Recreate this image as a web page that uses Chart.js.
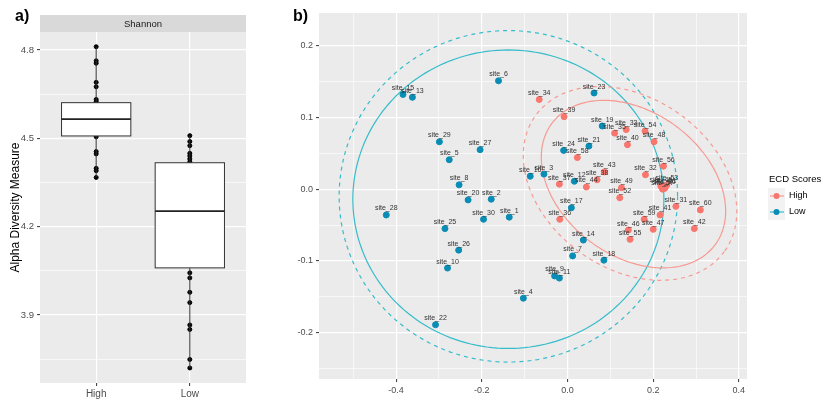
<!DOCTYPE html>
<html>
<head>
<meta charset="utf-8">
<script src="https://cdn.jsdelivr.net/npm/chart.js@4.4.0/dist/chart.umd.min.js"></script>
<style>
body { margin: 0; background: #fff; width: 825px; height: 401px; position: relative; overflow: hidden; font-family: "Liberation Sans", Arial, sans-serif; }
#boxWrap { position: absolute; left: 0; top: 0; width: 285px; height: 401px; }
#pcoaWrap { position: absolute; left: 285px; top: 0; width: 540px; height: 401px; }
.tag { position: absolute; font-weight: bold; font-size: 16px; color: #000; line-height: 1; }
</style>
</head>
<body>
<div id="boxWrap"><canvas id="boxChart" width="285" height="401"></canvas></div>
<div id="pcoaWrap"><canvas id="pcoaChart" width="540" height="401"></canvas></div>
<div class="tag" style="left:15px; top:8px;">a)</div>
<div class="tag" style="left:293px; top:8px;">b)</div>
<script>
/* ------------------------------- Data: panel a -------------------------------*/

const boxGroups = ['High', 'Low'];
const boxQ1 = [4.508, 4.060];
const boxMedian = [4.565, 4.253];
const boxQ3 = [4.621, 4.417];
const whiskerLow = [4.367, 3.720];
const whiskerHigh = [4.811, 4.509];

const highDiversity = [4.811, 4.763, 4.755, 4.690, 4.675, 4.632, 4.625, 4.505, 4.455, 4.447, 4.398, 4.390, 4.367];
const lowDiversity = [4.509, 4.489, 4.475, 4.449, 4.440, 4.430, 4.420, 4.043, 4.026, 3.977, 3.942, 3.866, 3.851, 3.749, 3.720];

const boxMajorTicks = [3.9, 4.2, 4.5, 4.8];
const boxMinorTicks = [3.75, 4.05, 4.35, 4.65];

/* ------------------------------- Data: panel b -------------------------------*/

const lowSites = ['site_1', 'site_2', 'site_3', 'site_4', 'site_5', 'site_6', 'site_7', 'site_8', 'site_9', 'site_10',
    'site_11', 'site_12', 'site_13', 'site_14', 'site_15', 'site_16', 'site_17', 'site_18', 'site_19', 'site_20',
    'site_21', 'site_22', 'site_23', 'site_24', 'site_25', 'site_26', 'site_27', 'site_28', 'site_29', 'site_30'];
const lowPC1 = [-0.136, -0.178, -0.055, -0.103, -0.276, -0.161, 0.012, -0.253, -0.030, -0.280,
    -0.019, 0.016, -0.362, 0.037, -0.384, -0.087, 0.009, 0.085, 0.081, -0.232,
    0.050, -0.308, 0.062, -0.009, -0.286, -0.254, -0.204, -0.423, -0.299, -0.196];
const lowPC2 = [-0.039, -0.014, 0.021, -0.152, 0.041, 0.151, -0.093, 0.006, -0.121, -0.110,
    -0.124, 0.011, 0.128, -0.071, 0.132, 0.018, -0.026, -0.099, 0.088, -0.015,
    0.060, -0.189, 0.134, 0.054, -0.055, -0.085, 0.055, -0.036, 0.066, -0.042];

const highSites = ['site_31', 'site_32', 'site_33', 'site_34', 'site_35', 'site_36', 'site_37', 'site_38', 'site_39', 'site_40',
    'site_41', 'site_42', 'site_43', 'site_44', 'site_45', 'site_46', 'site_47', 'site_48', 'site_49', 'site_50',
    'site_51', 'site_52', 'site_53', 'site_54', 'site_55', 'site_56', 'site_57', 'site_58', 'site_59', 'site_60'];
const highPC1 = [0.253, 0.182, 0.137, -0.066, 0.110, -0.018, -0.019, 0.069, -0.008, 0.140,
    0.216, 0.296, 0.086, 0.044, 0.218, 0.142, 0.200, 0.202, 0.126, 0.226,
    0.228, 0.122, 0.232, 0.181, 0.146, 0.224, 0.222, 0.023, 0.179, 0.310];
const highPC2 = [-0.024, 0.020, 0.083, 0.125, 0.078, -0.042, 0.007, 0.013, 0.101, 0.062,
    -0.036, -0.055, 0.024, 0.003, 0.004, -0.057, -0.056, 0.066, 0.002, 0.001,
    0.002, -0.012, 0.006, 0.081, -0.070, 0.032, 0.000, 0.044, -0.042, -0.029];

// ellipses: centre and two conjugate half-axes (data units)
const ellipseGroup = ['Low', 'Low', 'High', 'High'];
const ellipseDashed = [false, true, false, true];
const ellipseCX = [-0.138, -0.138, 0.154, 0.146];
const ellipseCY = [-0.014, -0.010, 0.007, 0.008];
const ellipseU = [[0.363, 0], [0.395, 0], [0.190, -0.085], [0.220, -0.095]];
const ellipseV = [[0, -0.208], [0, -0.231], [-0.101, -0.080], [-0.117, -0.096]];

const pcoaXMajor = [-0.4, -0.2, 0, 0.2, 0.4];
const pcoaXMinor = [-0.5, -0.3, -0.1, 0.1, 0.3];
const pcoaYMajor = [-0.2, -0.1, 0, 0.1, 0.2];
const pcoaYMinor = [-0.25, -0.15, -0.05, 0.05, 0.15];

/* ------------------------------- Styles -------------------------------*/

const FONT = '"Liberation Sans", Arial, sans-serif';
const COLORS = { High: '#F8766D', Low: '#0A8DB5' };
const LINE_COLORS = { High: '#F69A92', Low: '#35BCCB' };

/* ------------------------------- Helpers -------------------------------*/

function setTicks(majors, minors) {
    return function (scale) {
        scale.ticks = majors.concat(minors).sort((a, b) => a - b).map(v => ({ value: v }));
    };
}

function gridFor(majors) {
    return {
        color: '#FFFFFF',
        lineWidth: ctx => (ctx.tick && majors.includes(ctx.tick.value)) ? 1.2 : 0.6,
        tickColor: ctx => (ctx.tick && majors.includes(ctx.tick.value)) ? '#333333' : 'rgba(0,0,0,0)',
        tickLength: 3,
        tickWidth: 1
    };
}

const panelBg = {
    id: 'panelBg',
    beforeDraw(chart) {
        const a = chart.chartArea, c = chart.ctx;
        c.save();
        c.fillStyle = '#EBEBEB';
        c.fillRect(a.left, a.top, a.right - a.left, a.bottom - a.top);
        c.restore();
    }
};

/* ------------------------------- Panel a: box plot -------------------------------*/

const stripPlugin = {
    id: 'strip',
    afterDraw(chart) {
        const a = chart.chartArea, c = chart.ctx;
        c.save();
        c.fillStyle = '#D9D9D9';
        c.fillRect(a.left, 15, a.right - a.left, a.top - 15);
        c.fillStyle = '#1A1A1A';
        c.font = '9.5px ' + FONT;
        c.textAlign = 'center';
        c.textBaseline = 'middle';
        c.fillText('Shannon', (a.left + a.right) / 2, (15 + a.top) / 2 + 0.5);
        c.restore();
    }
};

const boxPlugin = {
    id: 'boxPlot',
    afterDatasetsDraw(chart) {
        const c = chart.ctx, xs = chart.scales.x, ys = chart.scales.y;
        c.save();
        for (let i = 0; i < boxGroups.length; i++) {
            const xc = xs.getPixelForValue(i + 1);
            const half = xs.getPixelForValue(i + 1.37) - xc;
            c.strokeStyle = '#333333';
            c.lineWidth = 1;
            c.beginPath();
            c.moveTo(xc, ys.getPixelForValue(whiskerLow[i]));
            c.lineTo(xc, ys.getPixelForValue(whiskerHigh[i]));
            c.stroke();

            const top = ys.getPixelForValue(boxQ3[i]);
            const bot = ys.getPixelForValue(boxQ1[i]);
            c.fillStyle = '#FFFFFF';
            c.fillRect(xc - half, top, half * 2, bot - top);
            c.strokeRect(xc - half, top, half * 2, bot - top);

            const med = ys.getPixelForValue(boxMedian[i]);
            c.lineWidth = 1.8;
            c.strokeStyle = '#222222';
            c.beginPath();
            c.moveTo(xc - half, med);
            c.lineTo(xc + half, med);
            c.stroke();
        }
        c.restore();
    }
};

new Chart(document.getElementById('boxChart').getContext('2d'), {
    type: 'scatter',
    data: {
        datasets: [{
            data: highDiversity.map(v => ({ x: 1, y: v })),
            backgroundColor: '#000', borderColor: '#000', pointRadius: 2
        }, {
            data: lowDiversity.map(v => ({ x: 2, y: v })),
            backgroundColor: '#000', borderColor: '#000', pointRadius: 2
        }]
    },
    options: {
        responsive: false,
        animation: false,
        devicePixelRatio: 1,
        layout: { padding: { top: 32, right: 39, bottom: 0, left: 0 } },
        plugins: { legend: { display: false }, tooltip: { enabled: false } },
        scales: {
            x: {
                type: 'linear', min: 0.4, max: 2.6,
                afterBuildTicks: setTicks([1, 2], []),
                afterFit: s => { s.height = 18; },
                ticks: { autoSkip: false, maxRotation: 0, padding: 2, color: '#4D4D4D',
                    font: { size: 10, family: FONT }, callback: v => boxGroups[v - 1] },
                grid: gridFor([1, 2]),
                border: { display: false }
            },
            y: {
                min: 3.669, max: 4.861,
                afterBuildTicks: setTicks(boxMajorTicks, boxMinorTicks),
                afterFit: s => { s.width = 40; },
                ticks: { autoSkip: false, padding: 3, color: '#4D4D4D',
                    font: { size: 9.5, family: FONT },
                    callback: v => boxMajorTicks.includes(v) ? v.toFixed(1) : '' },
                grid: gridFor(boxMajorTicks),
                border: { display: false },
                title: { display: true, text: 'Alpha Diversity Measure', color: '#000',
                    font: { size: 12, family: FONT }, padding: { top: 8, bottom: 0 } }
            }
        }
    },
    plugins: [panelBg, boxPlugin, stripPlugin]
});

/* ------------------------------- Panel b: PCoA -------------------------------*/

const ellipsePlugin = {
    id: 'ellipses',
    beforeDatasetsDraw(chart) {
        const c = chart.ctx, xs = chart.scales.x, ys = chart.scales.y, a = chart.chartArea;
        c.save();
        c.beginPath();
        c.rect(a.left, a.top, a.right - a.left, a.bottom - a.top);
        c.clip();
        for (let i = 0; i < ellipseCX.length; i++) {
            c.strokeStyle = LINE_COLORS[ellipseGroup[i]];
            c.lineWidth = 1.2;
            c.setLineDash(ellipseDashed[i] ? [4, 4] : []);
            c.beginPath();
            for (let k = 0; k <= 180; k++) {
                const t = k / 180 * Math.PI * 2;
                const x = ellipseCX[i] + ellipseU[i][0] * Math.cos(t) + ellipseV[i][0] * Math.sin(t);
                const y = ellipseCY[i] + ellipseU[i][1] * Math.cos(t) + ellipseV[i][1] * Math.sin(t);
                const px = xs.getPixelForValue(x), py = ys.getPixelForValue(y);
                if (k == 0) c.moveTo(px, py); else c.lineTo(px, py);
            }
            c.stroke();
        }
        c.restore();
    }
};

const siteLabels = {
    id: 'siteLabels',
    afterDatasetsDraw(chart) {
        const c = chart.ctx;
        c.save();
        c.font = '7px ' + FONT;
        c.fillStyle = '#333333';
        c.textAlign = 'center';
        c.textBaseline = 'alphabetic';
        chart.data.datasets.forEach((ds, di) => {
            const names = di == 0 ? highSites : lowSites;
            chart.getDatasetMeta(di).data.forEach((pt, i) => {
                c.fillText(names[i], pt.x, pt.y - 4.5);
            });
        });
        c.restore();
    }
};

const legendPlugin = {
    id: 'ecdLegend',
    afterDraw(chart) {
        const c = chart.ctx;
        const left = 484;
        c.save();
        c.fillStyle = '#000';
        c.font = '9.5px ' + FONT;
        c.textBaseline = 'middle';
        c.fillText('ECD Scores', left, 179);
        ['High', 'Low'].forEach((g, i) => {
            const yc = 196 + i * 16;
            c.fillStyle = '#F2F2F2';
            c.fillRect(left - 1, yc - 8, 17, 16);
            c.strokeStyle = LINE_COLORS[g];
            c.lineWidth = 1.2;
            c.beginPath();
            c.moveTo(left + 1, yc);
            c.lineTo(left + 15, yc);
            c.stroke();
            c.fillStyle = COLORS[g];
            c.beginPath();
            c.arc(left + 7.5, yc, 3, 0, Math.PI * 2);
            c.fill();
            c.fillStyle = '#000';
            c.font = '9px ' + FONT;
            c.fillText(g, left + 20, yc);
        });
        c.restore();
    }
};

new Chart(document.getElementById('pcoaChart').getContext('2d'), {
    type: 'scatter',
    data: {
        datasets: [{
            label: 'High',
            data: highPC1.map((x, i) => ({ x: x, y: highPC2[i] })),
            backgroundColor: COLORS.High, borderColor: COLORS.High, pointRadius: 3
        }, {
            label: 'Low',
            data: lowPC1.map((x, i) => ({ x: x, y: lowPC2[i] })),
            backgroundColor: COLORS.Low, borderColor: COLORS.Low, pointRadius: 3
        }]
    },
    options: {
        responsive: false,
        animation: false,
        devicePixelRatio: 1,
        layout: { padding: { top: 13, right: 78, bottom: 0, left: 0 } },
        plugins: { legend: { display: false }, tooltip: { enabled: false } },
        scales: {
            x: {
                type: 'linear', min: -0.58, max: 0.419,
                afterBuildTicks: setTicks(pcoaXMajor, pcoaXMinor),
                afterFit: s => { s.height = 22; },
                ticks: { autoSkip: false, maxRotation: 0, padding: 3, color: '#4D4D4D',
                    font: { size: 9, family: FONT },
                    callback: v => pcoaXMajor.includes(v) ? v.toFixed(1) : '' },
                grid: gridFor(pcoaXMajor),
                border: { display: false }
            },
            y: {
                min: -0.2646, max: 0.2455,
                afterBuildTicks: setTicks(pcoaYMajor, pcoaYMinor),
                afterFit: s => { s.width = 34; },
                ticks: { autoSkip: false, padding: 3, color: '#4D4D4D',
                    font: { size: 9, family: FONT },
                    callback: v => pcoaYMajor.includes(v) ? v.toFixed(1) : '' },
                grid: gridFor(pcoaYMajor),
                border: { display: false }
            }
        }
    },
    plugins: [panelBg, ellipsePlugin, siteLabels, legendPlugin]
});
</script>
</body>
</html>
